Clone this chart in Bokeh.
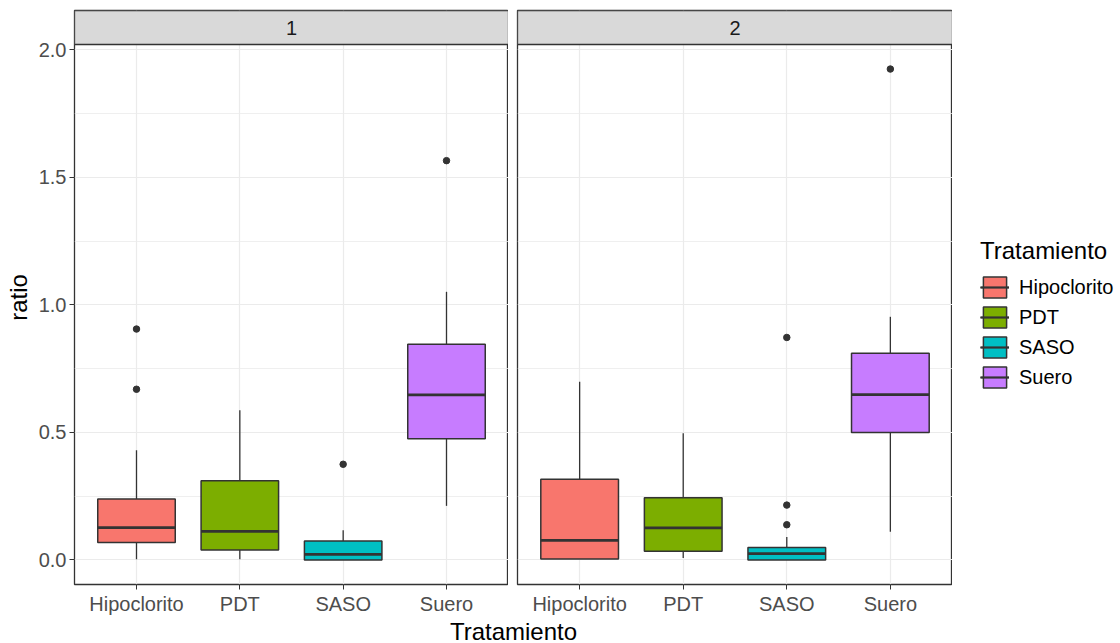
import numpy as np
from bokeh.plotting import figure
from bokeh.models import (Range1d, FixedTicker, ColumnDataSource, Legend, LegendItem,
                          PrintfTickFormatter)
from bokeh.layouts import row, column
from bokeh.embed import file_html
from bokeh.resources import INLINE
from bokeh.core.properties import value

# ---------------- data ----------------
categories = ["Hipoclorito", "PDT", "SASO", "Suero"]
colors = ["#F8766D", "#7CAE00", "#00BFC4", "#C77CFF"]
panels = ["1", "2"]

# panel "1"
p1_lower = [0.003, 0.003, 0.000, 0.212]
p1_q1 = [0.068, 0.039, 0.000, 0.475]
p1_median = [0.127, 0.112, 0.022, 0.647]
p1_q3 = [0.239, 0.310, 0.074, 0.845]
p1_upper = [0.430, 0.587, 0.116, 1.051]
p1_outlier_cat = ["Hipoclorito", "Hipoclorito", "SASO", "Suero"]
p1_outlier_val = [0.905, 0.669, 0.375, 1.565]

# panel "2"
p2_lower = [0.004, 0.008, 0.000, 0.111]
p2_q1 = [0.004, 0.034, 0.000, 0.500]
p2_median = [0.077, 0.126, 0.025, 0.648]
p2_q3 = [0.316, 0.244, 0.049, 0.810]
p2_upper = [0.698, 0.497, 0.090, 0.953]
p2_outlier_cat = ["SASO", "SASO", "SASO", "Suero"]
p2_outlier_val = [0.872, 0.215, 0.138, 1.924]

y_ticks = [0.0, 0.5, 1.0, 1.5, 2.0]
y_minor = [0.25, 0.75, 1.25, 1.75]

FONT = "Liberation Sans"
BOX_W = 0.75

PANEL_H = 540   # data panel height (px)
STRIP_H = 34    # facet strip height (px)
FRAME_H = PANEL_H + STRIP_H

# shared y range (ggplot 5% expansion), strip stacked above the panel area
all_lo = min(p1_lower + p2_lower + p1_outlier_val + p2_outlier_val)
all_hi = max(p1_upper + p2_upper + p1_outlier_val + p2_outlier_val)
span = all_hi - all_lo
y_lo = all_lo - 0.05 * span
y_hi = all_hi + 0.05 * span
strip_units = (y_hi - y_lo) * STRIP_H / PANEL_H
y_range = Range1d(y_lo, y_hi + strip_units)

pos = list(np.arange(1, len(categories) + 1, dtype=float))
cat_pos = {c: p for c, p in zip(categories, pos)}
x_lo, x_hi = pos[0] - 0.6, pos[-1] + 0.6


def make_panel(label, lower, q1, med, q3, upper, out_cat, out_val, left_border, frame_w, show_y):
    p = figure(frame_width=frame_w, frame_height=FRAME_H,
               x_range=Range1d(x_lo, x_hi), y_range=y_range,
               toolbar_location=None, output_backend="svg",
               y_axis_location="left" if show_y else None,
               min_border_left=left_border, min_border_right=0,
               min_border_top=10, min_border_bottom=0)
    p.background_fill_color = "white"
    p.border_fill_color = "white"
    p.outline_line_color = "#333333"
    p.outline_line_width = 1.3

    # grids
    p.xgrid.ticker = FixedTicker(ticks=pos)
    p.xgrid.grid_line_color = "#EBEBEB"
    p.xgrid.grid_line_width = 1.2
    p.ygrid.ticker = FixedTicker(ticks=y_ticks, minor_ticks=y_minor)
    p.ygrid.grid_line_color = "#EBEBEB"
    p.ygrid.grid_line_width = 1.2
    p.ygrid.minor_grid_line_color = "#EBEBEB"
    p.ygrid.minor_grid_line_width = 0.8

    # x axis
    xa = p.xaxis[0]
    xa.ticker = FixedTicker(ticks=pos)
    xa.major_label_overrides = {int(k): c for k, c in zip(pos, categories)}
    xa.axis_line_color = None
    xa.major_tick_line_color = "#333333"
    xa.major_tick_out = 5
    xa.major_tick_in = 0
    xa.minor_tick_line_color = None
    xa.major_label_text_font = FONT
    xa.major_label_text_font_size = "20px"
    xa.major_label_text_color = "#4D4D4D"
    xa.major_label_standoff = 3

    if show_y:
        ya = p.yaxis[0]
        ya.ticker = FixedTicker(ticks=y_ticks)
        ya.formatter = PrintfTickFormatter(format="%.1f")
        ya.axis_line_color = None
        ya.major_tick_line_color = "#333333"
        ya.major_tick_out = 5
        ya.major_tick_in = 0
        ya.minor_tick_line_color = None
        ya.major_label_text_font = FONT
        ya.major_label_text_font_size = "20px"
        ya.major_label_text_color = "#4D4D4D"
        ya.major_label_standoff = 3
        ya.axis_label = "ratio"
        ya.axis_label_text_font = FONT
        ya.axis_label_text_font_size = "24px"
        ya.axis_label_text_font_style = "normal"
        ya.axis_label_text_color = "#000000"
        ya.axis_label_standoff = 4

    src = ColumnDataSource(dict(
        x=pos, lower=lower, q1=q1, med=med, q3=q3, upper=upper, color=colors,
        xl=[x - BOX_W / 2 for x in pos], xr=[x + BOX_W / 2 for x in pos]))

    p.segment(x0="x", y0="q3", x1="x", y1="upper", source=src,
              line_color="#333333", line_width=1.3)
    p.segment(x0="x", y0="q1", x1="x", y1="lower", source=src,
              line_color="#333333", line_width=1.3)
    p.vbar(x="x", width=BOX_W, top="q3", bottom="q1", source=src,
           fill_color="color", line_color="#333333", line_width=1.5)
    p.segment(x0="xl", y0="med", x1="xr", y1="med", source=src,
              line_color="#333333", line_width=2.8)
    p.scatter(x=[cat_pos[c] for c in out_cat], y=out_val, size=6.5,
              fill_color="#333333", line_color="#333333")

    # facet strip on top of the panel
    p.quad(left=[x_lo], right=[x_hi], bottom=[y_hi], top=[y_hi + strip_units],
           fill_color="#D9D9D9", line_color="#333333", line_width=1.3)
    p.text(x=[(x_lo + x_hi) / 2], y=[y_hi + strip_units / 2], text=[label],
           text_align="center", text_baseline="middle",
           text_font=value(FONT), text_font_size="20px", text_color="#1A1A1A")
    return p, src


L1, W1 = 74, 434
L2, W2 = 9, 435
LEG_W = 1120 - (L1 + W1 + L2 + W2)

fig1, src1 = make_panel(panels[0], p1_lower, p1_q1, p1_median, p1_q3, p1_upper,
                        p1_outlier_cat, p1_outlier_val, L1, W1, True)
fig2, src2 = make_panel(panels[1], p2_lower, p2_q1, p2_median, p2_q3, p2_upper,
                        p2_outlier_cat, p2_outlier_val, L2, W2, False)

# legend figure (keys drawn from hidden copies of the box glyphs)
leg = figure(frame_width=LEG_W, frame_height=FRAME_H,
             x_range=Range1d(0, 1), y_range=Range1d(0, 1),
             toolbar_location=None, output_backend="svg",
             x_axis_location=None, y_axis_location=None,
             min_border_left=0, min_border_right=0, min_border_top=10, min_border_bottom=0)
leg.grid.visible = False
leg.outline_line_color = None
whisk_l = leg.vspan(x="x", source=src2, line_color="#333333", line_width=1.3)
box_l = leg.vbar(x="x", width=BOX_W, top="q3", bottom="q1", source=src2,
                 fill_color="color", line_color="#333333", line_width=1.5)
med_l = leg.segment(x0="xl", y0="med", x1="xr", y1="med", source=src2,
                    line_color="#333333", line_width=2.2)
for r in (whisk_l, box_l, med_l):
    r.visible = False

items = [LegendItem(label=c, renderers=[whisk_l, box_l, med_l], index=i)
         for i, c in enumerate(categories)]
legend = Legend(items=items, location=(28, 194), title="Tratamiento")
legend.title_text_font = FONT
legend.title_text_font_size = "24px"
legend.title_text_font_style = "normal"
legend.title_text_color = "#000000"
legend.title_standoff = 9
legend.label_text_font = FONT
legend.label_text_font_size = "20px"
legend.label_text_color = "#000000"
legend.label_standoff = 10
legend.glyph_width = 29
legend.glyph_height = 26
legend.label_height = 26
legend.spacing = 4
legend.padding = 0
legend.margin = 0
legend.border_line_color = None
legend.background_fill_alpha = 0
legend.click_policy = "none"
leg.add_layout(legend, "center")

# global x axis title
xt = figure(frame_width=W1 + L2 + W2, frame_height=28,
            x_range=Range1d(0, 1), y_range=Range1d(0, 1),
            toolbar_location=None, output_backend="svg",
            x_axis_location=None, y_axis_location=None,
            min_border_left=L1, min_border_right=0, min_border_top=0, min_border_bottom=0)
xt.grid.visible = False
xt.outline_line_color = None
xt.text(x=[0.5], y=[0.5], text=["Tratamiento"], text_align="center", text_baseline="middle",
        text_font=value(FONT), text_font_size="24px", text_color="#000000")

layout = column(row(fig1, fig2, leg), xt)

open("out.html", "w").write(file_html(layout, INLINE))
